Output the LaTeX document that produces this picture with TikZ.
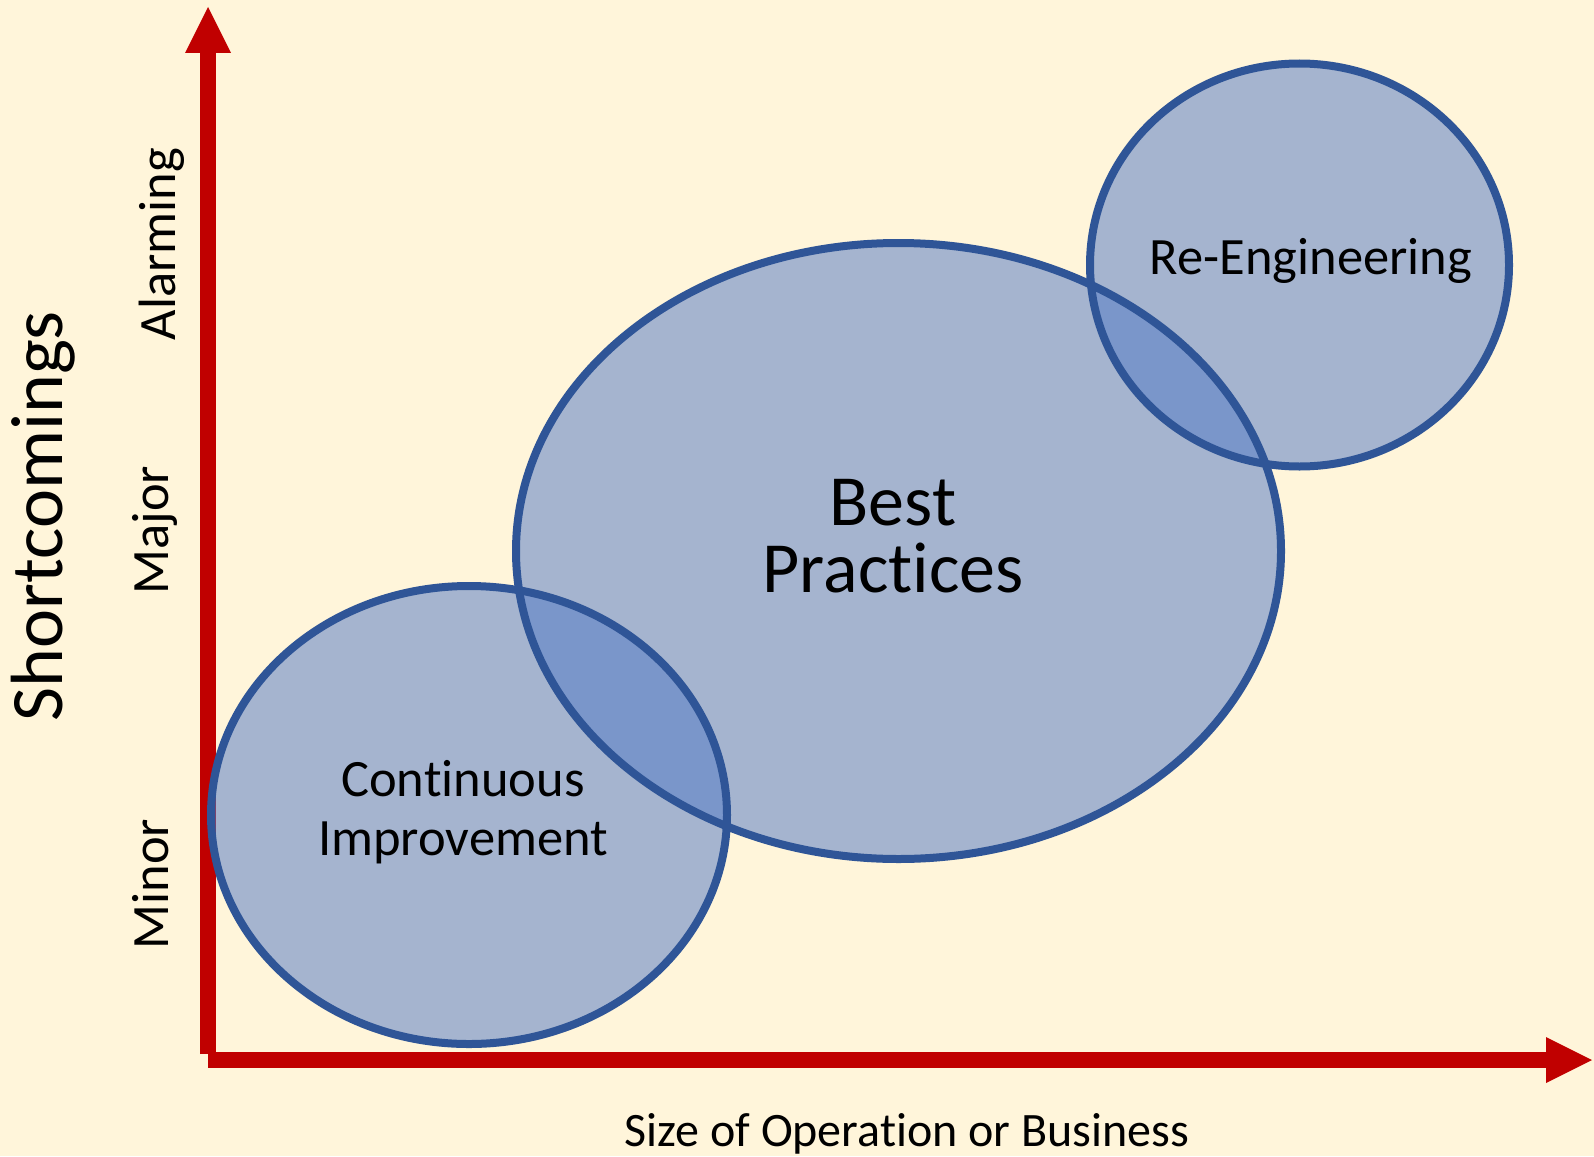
\documentclass[tikz,border=0pt]{standalone}
\usepackage{fontspec}
\setmainfont{Carlito}[Ligatures=NoCommon]
\usepackage{tikz}
\usetikzlibrary{arrows.meta}

\definecolor{bgcream}{HTML}{FFF5DA}
\definecolor{axisred}{HTML}{C00000}
\definecolor{blobfill}{HTML}{557CC6}
\definecolor{blobline}{HTML}{2F5597}

\begin{document}
\begin{tikzpicture}[x=1pt,y=-1pt,
    axis/.style={draw=axisred,line width=16pt,-{Triangle[length=46pt,width=46pt,line width=0pt]}},
    blob/.style={fill=blobfill,fill opacity=0.53},
    rim/.style={draw=blobline,line width=8pt},
    lbl/.style={inner sep=0pt,align=center,font=\fontsize{52.5}{59}\selectfont}]
        \fill[bgcream] (0,0) rectangle (1594,1156);
        \useasboundingbox (0,0) rectangle (1594,1156);
        % axes
        \coordinate (ybot) at (208,1054);
        \coordinate (ytop) at (208,7);
        \coordinate (o) at (208,1060);
        \coordinate (xend) at (1592,1060);
        \draw[axis] (ybot) -- (ytop);
        \draw[axis] (o) -- (xend);
        % fields
        \fill[blob] (469,815) ellipse [x radius=258,y radius=229];
        \fill[blob] (898.5,551) ellipse [x radius=382.5,y radius=308];
        \fill[blob] (1299.5,265) ellipse [x radius=209.5,y radius=201.5];
        \draw[rim] (469,815) ellipse [x radius=258,y radius=229];
        \draw[rim] (898.5,551) ellipse [x radius=382.5,y radius=308];
        \draw[rim] (1299.5,265) ellipse [x radius=209.5,y radius=201.5];
        % labels
        \node[lbl] (cont) at (463,812) {Continuous\\Improvement};
        \node[lbl,font=\fontsize{72}{67}\selectfont] (best) at (893,536) {Best\\Practices};
        \node[lbl,anchor=base] (reeng) at (1311,274.5) {Re-Engineering};
        \node[lbl,anchor=base,font=\fontsize{48}{56}\selectfont] (size) at (907,1146) {Size of Operation or Business};
        \node[lbl,anchor=base,rotate=90,font=\fontsize{74}{84}\selectfont] (short) at (62,516) {Shortcomings};
        \node[lbl,anchor=base,rotate=90] (alarm) at (175,244) {Alarming};
        \node[lbl,anchor=base,rotate=90] (major) at (168,530) {Major};
        \node[lbl,anchor=base,rotate=90] (minor) at (168,884) {Minor};
    \end{tikzpicture}
\end{document}
